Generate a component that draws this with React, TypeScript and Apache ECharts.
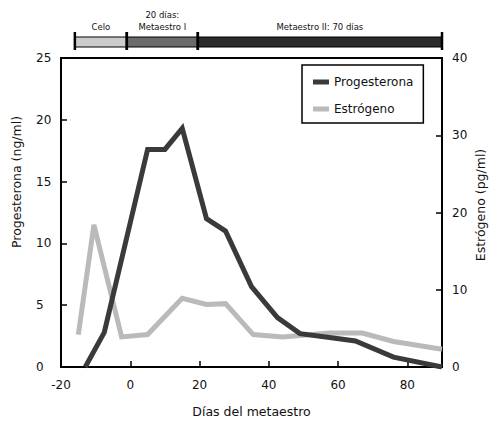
import React, { useEffect, useRef } from "react";
import * as echarts from "echarts";

const progDays = [-13, -7.5, 5, 10, 15, 22, 27.5, 35, 42.5, 49, 57, 65, 76, 90];
const progValues = [0, 2.8, 17.6, 17.6, 19.3, 12.0, 11.0, 6.5, 4.0, 2.7, 2.4, 2.1, 0.8, 0];

const estrDays = [-15, -10.5, -2.5, 5, 15, 22, 27.5, 35.5, 44, 57.5, 67, 76, 90];
const estrValues = [4.2, 18.4, 3.9, 4.2, 8.9, 8.1, 8.2, 4.2, 3.9, 4.4, 4.4, 3.3, 2.3];

const phaseNames = ["Celo", "20 días:\nMetaestro I", "Metaestro II: 70 días"];
const phaseStart = [-16, -1, 19.5];
const phaseEnd = [-1, 19.5, 90];
const phaseColors = ["#cccccc", "#6b6b6b", "#2b2b2b"];

const xTicks = { min: -20, max: 90, interval: 20 };
const leftTicks = { min: 0, max: 25, interval: 5 };
const rightTicks = { min: 0, max: 40, interval: 10 };

const FONT = "DejaVu Sans";

export default function App() {
  const ref = useRef<HTMLDivElement>(null);
  useEffect(() => {
    if (!ref.current) return;
    const chart = echarts.init(ref.current, undefined, { renderer: "svg" });
    const phaseData = phaseNames.map((n, i) => [phaseStart[i], phaseEnd[i], i]);
    const option: any = {
      animation: false,
      backgroundColor: "#ffffff",
      textStyle: { fontFamily: FONT },
      grid: [
        {
          left: 61,
          right: 47,
          top: 58,
          bottom: 50,
          show: true,
          borderColor: "#000",
          borderWidth: 2,
          backgroundColor: "transparent",
        },
        { left: 61, right: 47, top: 37, height: 10 },
      ],
      legend: {
        orient: "vertical",
        left: 302,
        top: 65,
        padding: [11, 10, 8, 11],
        borderColor: "#000",
        borderWidth: 1.5,
        itemWidth: 16,
        itemHeight: 5,
        itemGap: 15,
        icon: "rect",
        textStyle: { fontFamily: FONT, fontSize: 12, color: "#111" },
        data: ["Progesterona", "Estrógeno"],
      },
      xAxis: [
        {
          gridIndex: 0,
          type: "value",
          ...xTicks,
          axisLine: { show: true, onZero: false, lineStyle: { color: "#000", width: 2 } },
          axisTick: { show: true, inside: true, length: 6, lineStyle: { color: "#000", width: 1.5 } },
          axisLabel: { showMaxLabel: false, margin: 12, fontSize: 12, color: "#111", fontFamily: FONT },
          splitLine: { show: false },
          name: "Días del metaestro",
          nameLocation: "middle",
          nameGap: 38,
          nameTextStyle: { fontSize: 12.5, color: "#111", fontFamily: FONT },
        },
        {
          gridIndex: 1,
          type: "value",
          min: xTicks.min,
          max: xTicks.max,
          show: false,
        },
      ],
      yAxis: [
        {
          gridIndex: 0,
          type: "value",
          ...leftTicks,
          position: "left",
          axisLine: { show: true, onZero: false, lineStyle: { color: "#000", width: 2 } },
          axisTick: { show: true, inside: true, length: 6, lineStyle: { color: "#000", width: 1.5 } },
          axisLabel: { margin: 25, align: "left", fontSize: 12, color: "#111", fontFamily: FONT },
          splitLine: { show: false },
        },
        {
          gridIndex: 0,
          type: "value",
          ...rightTicks,
          position: "right",
          axisLine: { show: true, onZero: false, lineStyle: { color: "#000", width: 2 } },
          axisTick: { show: true, inside: true, length: 6, lineStyle: { color: "#000", width: 1.5 } },
          axisLabel: { margin: 10, fontSize: 12, color: "#111", fontFamily: FONT },
          splitLine: { show: false },
        },
        { gridIndex: 1, type: "value", min: 0, max: 1, show: false },
      ],
      graphic: [
        {
          type: "text",
          x: 16,
          y: 182,
          rotation: Math.PI / 2,
          style: {
            text: "Progesterona (ng/ml)",
            fontFamily: FONT,
            fontSize: 12.5,
            fill: "#111111",
            align: "center",
            verticalAlign: "middle",
          },
        },
        {
          type: "text",
          x: 480,
          y: 205,
          rotation: Math.PI / 2,
          style: {
            text: "Estrógeno (pg/ml)",
            fontFamily: FONT,
            fontSize: 12.5,
            fill: "#111111",
            align: "center",
            verticalAlign: "middle",
          },
        },
      ],
      series: [
        {
          name: "Progesterona",
          type: "line",
          xAxisIndex: 0,
          yAxisIndex: 0,
          data: progDays.map((d, i) => [d, progValues[i]]),
          showSymbol: false,
          symbol: "none",
          color: "#3a3a3a",
          lineStyle: { width: 5, color: "#3a3a3a", join: "miter" },
          z: 3,
        },
        {
          name: "Estrógeno",
          type: "line",
          xAxisIndex: 0,
          yAxisIndex: 1,
          data: estrDays.map((d, i) => [d, estrValues[i]]),
          showSymbol: false,
          symbol: "none",
          color: "#bababa",
          lineStyle: { width: 5, color: "#bababa", join: "miter" },
          z: 2,
        },
        {
          type: "custom",
          xAxisIndex: 1,
          yAxisIndex: 2,
          data: phaseData,
          clip: false,
          renderItem: (params: any, api: any) => {
            const s = api.coord([api.value(0), 1]);
            const e = api.coord([api.value(1), 0]);
            const idx = api.value(2);
            const top = s[1];
            const bottom = e[1];
            const children: any[] = [
              {
                type: "rect",
                shape: { x: s[0], y: top, width: e[0] - s[0], height: bottom - top },
                style: { fill: phaseColors[idx], stroke: "#000", lineWidth: 1.2 },
              },
              {
                type: "line",
                shape: { x1: s[0], y1: top - 5, x2: s[0], y2: bottom + 3 },
                style: { stroke: "#000", lineWidth: 2.5 },
              },
              {
                type: "line",
                shape: { x1: e[0], y1: top - 5, x2: e[0], y2: bottom + 3 },
                style: { stroke: "#000", lineWidth: 2.5 },
              },
              {
                type: "text",
                x: (s[0] + e[0]) / 2,
                y: top - 4,
                style: {
                  text: phaseNames[idx],
                  fontFamily: FONT,
                  fontSize: 8.5,
                  lineHeight: 12,
                  fill: "#111",
                  align: "center",
                  verticalAlign: "bottom",
                },
              },
            ];
            return { type: "group", children };
          },
        },
      ],
    };
    chart.setOption(option);
    return () => chart.dispose();
  }, []);
  return (
    <div
      ref={ref}
      style={{ position: "fixed", left: 0, top: 0, width: 489, height: 423 }}
    />
  );
}
